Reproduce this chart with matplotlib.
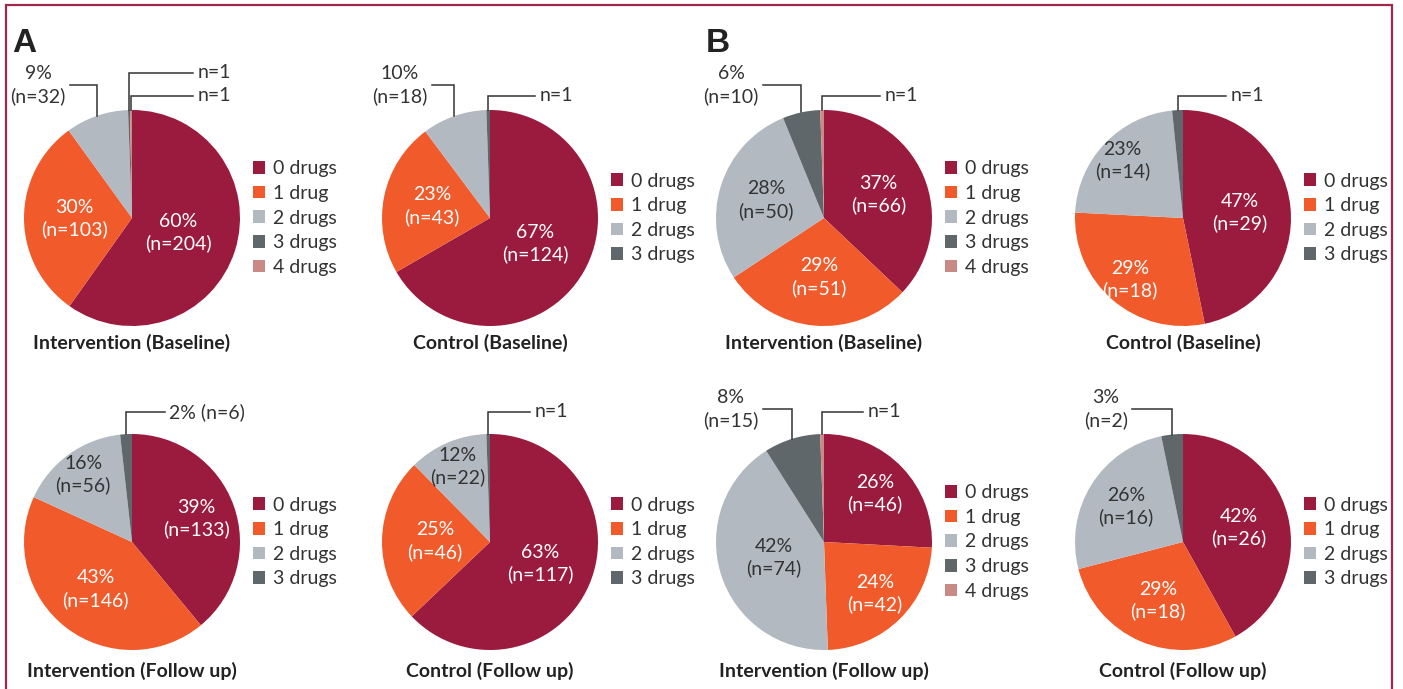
'''
Number of drugs per patient, intervention vs control,
baseline and follow up (panels A and B)
'''

import numpy as np
import matplotlib.pyplot as plt
from matplotlib.patches import Rectangle

plt.rcParams['font.family'] = ['Lato', 'DejaVu Sans']

# categories and colours
categories = ['0 drugs', '1 drug', '2 drugs', '3 drugs', '4 drugs']
slice_colors = ['#9b1b3e', '#f15a2b', '#b3b9c0', '#5f676b', '#c98a86']
text_colors = ['white', 'white', '#333333', 'white', 'white']

# counts per group
a_int_base = [204, 103, 32, 1, 1]
a_ctl_base = [124, 43, 18, 1]
a_int_fu = [133, 146, 56, 6]
a_ctl_fu = [117, 46, 22, 1]
b_int_base = [66, 51, 50, 10, 1]
b_ctl_base = [29, 18, 14, 1]
b_int_fu = [46, 42, 74, 15, 1]
b_ctl_fu = [26, 18, 16, 2]

titles = ['Intervention (Baseline)', 'Control (Baseline)',
          'Intervention (Baseline)', 'Control (Baseline)',
          'Intervention (Follow up)', 'Control (Follow up)',
          'Intervention (Follow up)', 'Control (Follow up)']
groups = [a_int_base, a_ctl_base, b_int_base, b_ctl_base,
          a_int_fu, a_ctl_fu, b_int_fu, b_ctl_fu]

# layout (pixels)
W, H = 1403, 689
R = 108
centers = [(132, 218), (490, 218), (824, 218), (1183, 218),
           (132, 542), (490, 542), (824, 542), (1183, 542)]
title_y = [343, 343, 343, 343, 671, 671, 671, 671]

# how far out the inside labels sit (radius units), per slice
label_dist = [
    [0.45, 0.53, 0.0],
    [0.48, 0.55, 0.0],
    [0.55, 0.55, 0.56],
    [0.53, 0.75, 0.77],
    [0.63, 0.55, 0.77],
    [0.51, 0.51, 0.76],
    [0.65, 0.67, 0.49],
    [0.53, 0.59, 0.62],
]

# callouts for small slices: (slice, x end, y level, one line) in radius units
callouts = [
    [(3, 0.565, 1.343, False), (4, 0.565, 1.13, False), (2, -0.574, 1.231, False)],
    [(3, 0.417, 1.13, False), (2, -0.537, 1.231, False)],
    [(4, 0.52, 1.13, False), (3, -0.565, 1.231, False)],
    [(3, 0.40, 1.13, False)],
    [(3, 0.305, 1.204, True)],
    [(3, 0.37, 1.204, False)],
    [(4, 0.36, 1.204, False), (3, -0.565, 1.23, False)],
    [(3, -0.47, 1.23, False)],
]

FS = 14

fig = plt.figure(figsize=(W / 100, H / 100), dpi=100)

for k, vals in enumerate(groups):
    cx, cy = centers[k]
    ax = fig.add_axes([(cx - R) / W, (H - cy - R) / H, 2 * R / W, 2 * R / H])
    n = len(vals)
    total = sum(vals)
    wedges, _ = ax.pie(vals, colors=slice_colors[:n], startangle=90,
                       counterclock=False, radius=1,
                       wedgeprops=dict(linewidth=0))
    ax.set_xlim(-1, 1)
    ax.set_ylim(-1, 1)
    ax.set_aspect('equal')

    small = [c[0] for c in callouts[k]]
    for i, w in enumerate(wedges):
        pct = 100.0 * vals[i] / total
        mid = np.deg2rad((w.theta1 + w.theta2) / 2)
        if i not in small:
            d = label_dist[k][i]
            ax.text(d * np.cos(mid), d * np.sin(mid),
                    '%d%%\n(n=%d)' % (round(pct), vals[i]),
                    ha='center', va='center', color=text_colors[i],
                    fontsize=FS, linespacing=1.3)

    for (i, xe, yl, one) in callouts[k]:
        w = wedges[i]
        mid = np.deg2rad((w.theta1 + w.theta2) / 2)
        x0, y0 = np.cos(mid), np.sin(mid)
        ax.plot([x0, x0, xe], [y0, yl, yl], color='#333333', lw=1.1,
                clip_on=False, solid_joinstyle='miter')
        pct = 100.0 * vals[i] / total
        if vals[i] == 1:
            txt = 'n=1'
        elif one:
            txt = '%d%% (n=%d)' % (round(pct), vals[i])
        else:
            txt = '%d%%\n(n=%d)' % (round(pct), vals[i])
        if xe > x0:
            ax.text(xe + 0.04, yl, txt, ha='left', va='center',
                    color='#333333', fontsize=FS, linespacing=1.3)
        else:
            ax.text(xe - 0.04, yl, txt, ha='right', va='center',
                    color='#333333', fontsize=FS, linespacing=1.3,
                    multialignment='center')

    ax.legend(wedges, categories[:n], loc='center left',
              bbox_to_anchor=((R + 121) / (2 * R), 0.5), frameon=False,
              borderpad=0, borderaxespad=0, handlelength=0.62,
              handleheight=0.62, handletextpad=0.42, labelspacing=0.39,
              fontsize=FS, labelcolor='#333333')

    fig.text(cx / W, 1 - title_y[k] / H, titles[k], ha='center',
             va='center', fontsize=FS, fontweight='bold', color='#222222')

# panel letters
fig.text(12 / W, 1 - 52 / H, 'A', fontsize=24, fontweight='bold',
         family=['Liberation Sans', 'DejaVu Sans'], va='baseline', color='#222222')
fig.text(706 / W, 1 - 52 / H, 'B', fontsize=24, fontweight='bold',
         family=['Liberation Sans', 'DejaVu Sans'], va='baseline', color='#222222')

# frame around the figure
fig.patches.append(Rectangle((6 / W, -0.02), (1392 - 6) / W, 1.02 - 5 / H,
                             transform=fig.transFigure, fill=False,
                             edgecolor='#a0284b', linewidth=1.6))

fig.savefig('out.png', dpi=100)
